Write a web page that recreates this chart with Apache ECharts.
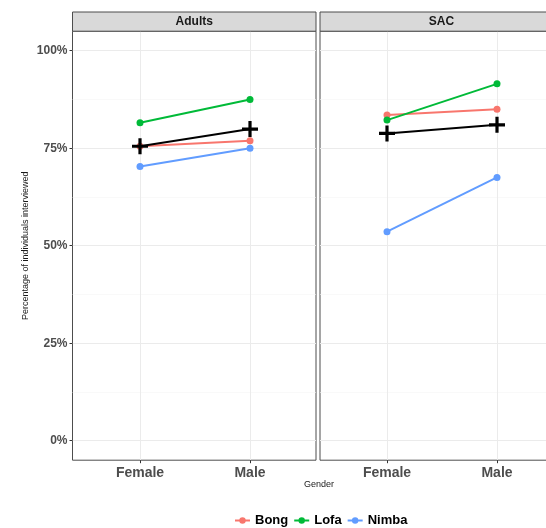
<!DOCTYPE html>
<html>
<head>
<meta charset="utf-8">
<script src="https://cdn.jsdelivr.net/npm/echarts@6/dist/echarts.min.js"></script>
<style>html,body{margin:0;padding:0;background:#fff}#chart{width:546px;height:528px}</style>
</head>
<body>
<div id="chart"></div>
<script>
const categories = ['Female', 'Male'];
const panels = ['Adults', 'SAC'];
const groups = ['Bong', 'Lofa', 'Nimba'];
const adultsBong = [75.5, 76.9];
const adultsLofa = [81.5, 87.5];
const adultsNimba = [70.3, 75.0];
const adultsMean = [75.5, 79.9];
const sacBong = [83.5, 85.0];
const sacLofa = [82.2, 91.5];
const sacNimba = [53.6, 67.5];
const sacMean = [78.8, 81.0];
const yTicks = [0, 25, 50, 75, 100];

const panelData = [
  {Bong: adultsBong, Lofa: adultsLofa, Nimba: adultsNimba, Mean: adultsMean},
  {Bong: sacBong, Lofa: sacLofa, Nimba: sacNimba, Mean: sacMean}
];
const colors = {Bong: '#F8766D', Lofa: '#00BA38', Nimba: '#619CFF'};
const FONT = 'Liberation Sans, Arial, Helvetica, sans-serif';

// layout (pixels)
const layout = [
  {frameLeft: 72.5, frameWidth: 243.5, dataLeft: 140, dataWidth: 110},
  {frameLeft: 320, frameWidth: 243, dataLeft: 387, dataWidth: 110}
];
const frameTop = 31.2, frameHeight = 429;
const innerTop = 50.7, innerHeight = 390;

const grid = [], xAxis = [], yAxis = [], series = [], graphic = [];
layout.forEach((L, p) => {
  const base = p * 3;
  // frame grid
  grid.push({left: L.frameLeft, top: frameTop, width: L.frameWidth, height: frameHeight,
    show: true, borderColor: '#4d4d4d', borderWidth: 1, backgroundColor: 'transparent', outerBoundsMode: 'none'});
  xAxis.push({gridIndex: base, type: 'value', show: false, min: 0, max: 1});
  yAxis.push({gridIndex: base, type: 'value', show: false, min: 0, max: 1});
  // horizontal gridline grid
  grid.push({left: L.frameLeft, top: innerTop, width: L.frameWidth, height: innerHeight, show: false, outerBoundsMode: 'none'});
  xAxis.push({gridIndex: base + 1, type: 'value', show: false, min: 0, max: 1});
  yAxis.push({gridIndex: base + 1, type: 'value', min: 0, max: 100, interval: 25,
    axisLine: {show: false, onZero: false},
    axisTick: {show: p === 0, length: 3, lineStyle: {color: '#333'}},
    axisLabel: {show: p === 0, formatter: v => yTicks.includes(v) ? v + '%' : '', fontFamily: FONT, fontWeight: 'bold', fontSize: 12, color: '#4d4d4d', margin: 5},
    splitLine: {show: true, lineStyle: {color: '#ebebeb', width: 1}},
    minorTick: {show: false, splitNumber: 2},
    minorSplitLine: {show: true, lineStyle: {color: '#f5f5f5', width: 0.6}},
    name: p === 0 ? 'Percentage of individuals interviewed' : '',
    nameLocation: 'middle', nameGap: 42, nameRotate: 90,
    nameTextStyle: {fontFamily: FONT, fontSize: 9, color: '#1a1a1a'}
  });
  // data grid
  grid.push({left: L.dataLeft, top: frameTop, width: L.dataWidth, height: frameHeight, show: false, outerBoundsMode: 'none'});
  xAxis.push({gridIndex: base + 2, type: 'category', data: categories, boundaryGap: false, position: 'bottom',
    axisLine: {show: false, onZero: false},
    axisTick: {show: true, length: 3, lineStyle: {color: '#333'}},
    axisLabel: {fontFamily: FONT, fontWeight: 'bold', fontSize: 14, color: '#4d4d4d', margin: 6},
    splitLine: {show: true, lineStyle: {color: '#ebebeb', width: 1}}
  });
  yAxis.push({gridIndex: base + 2, type: 'value', show: false, min: -5, max: 105});

  const d = panelData[p];
  groups.forEach(g => {
    series.push({name: g, type: 'line', xAxisIndex: base + 2, yAxisIndex: base + 2,
      data: d[g], symbol: 'circle', symbolSize: 7, showSymbol: true,
      itemStyle: {color: colors[g]}, lineStyle: {color: colors[g], width: 2}, z: 2, animation: false});
  });
  series.push({name: 'Mean', type: 'line', xAxisIndex: base + 2, yAxisIndex: base + 2,
    data: d.Mean, symbol: 'path://M4,0h2v4h4v2h-4v4h-2v-4h-4v-2h4z', symbolSize: 16, symbolKeepAspect: true,
    itemStyle: {color: '#000'}, lineStyle: {color: '#000', width: 2}, z: 3, animation: false});

  // strip header
  graphic.push({type: 'rect', shape: {x: L.frameLeft, y: 12, width: L.frameWidth, height: frameTop - 12},
    style: {fill: '#d9d9d9', stroke: '#4d4d4d', lineWidth: 1}, z: 10});
  graphic.push({type: 'text', x: L.frameLeft + L.frameWidth / 2, y: 12 + (frameTop - 12) / 2,
    style: {text: panels[p], fontFamily: FONT, fontWeight: 'bold', fontSize: 12, fill: '#1a1a1a', align: 'center', verticalAlign: 'middle'}, z: 11});
});

graphic.push({type: 'text', x: 319, y: 485, style: {text: 'Gender', fontFamily: FONT, fontSize: 9, fill: '#1a1a1a', align: 'center', verticalAlign: 'middle'}});

const option = {
  backgroundColor: '#fff',
  animation: false,
  grid, xAxis, yAxis, series, graphic,
  legend: {data: groups, top: 509, left: 229, itemWidth: 15, itemHeight: 8, itemGap: 5,
    textStyle: {fontFamily: FONT, fontWeight: 'bold', fontSize: 13, color: '#000'}}
};
const chart = echarts.init(document.getElementById('chart'), null, {renderer: 'canvas'});
chart.setOption(option);
</script>
</body>
</html>
